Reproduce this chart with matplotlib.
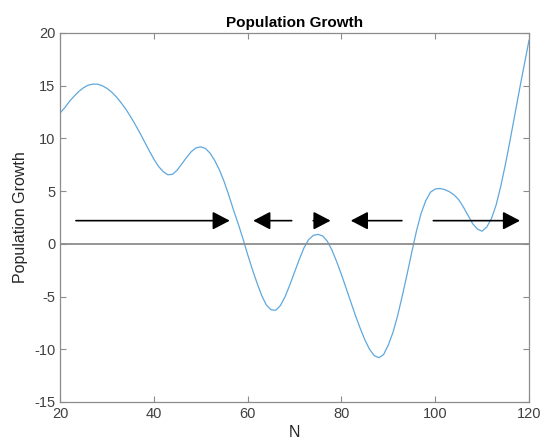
import matplotlib
matplotlib.use('Agg')
import matplotlib.pyplot as plt

plt.rcParams['font.family'] = ['Liberation Sans', 'DejaVu Sans']
plt.rcParams['axes.unicode_minus'] = False

# curve, one value per unit of N
N = list(range(20, 121))
growth = [12.4, 12.9, 13.5, 14.0, 14.45, 14.8, 15.05, 15.15, 15.15, 15.0,
          14.75, 14.4, 13.95, 13.4, 12.8, 12.1, 11.35, 10.55, 9.7, 8.85,
          8.05, 7.35, 6.85, 6.55, 6.6, 7.0, 7.6, 8.2, 8.75, 9.1,
          9.2, 9.05, 8.6, 7.9, 7.0, 5.9, 4.6, 3.2, 1.9, 0.5,
          -1.0, -2.4, -3.7, -4.9, -5.8, -6.25, -6.3, -5.85, -5.0, -3.9,
          -2.7, -1.5, -0.4, 0.4, 0.8, 0.9, 0.75, 0.25, -0.6, -1.7,
          -2.9, -4.2, -5.5, -6.8, -8.0, -9.1, -10.0, -10.6, -10.8, -10.5,
          -9.6, -8.4, -6.8, -4.9, -2.9, -0.8, 1.2, 2.9, 4.1, 4.9,
          5.2, 5.25, 5.15, 4.95, 4.65, 4.2, 3.5, 2.7, 1.9, 1.4,
          1.2, 1.6, 2.4, 3.7, 5.5, 7.6, 9.9, 12.3, 14.7, 17.0,
          19.3]

# direction arrows (tail, tip) at height arrow_y
arrow_tail = [23.4, 69.4, 74.0, 92.9, 99.6]
arrow_tip = [56.2, 61.2, 77.7, 82.0, 118.1]
arrow_y = 2.2

fig = plt.figure(figsize=(5.42, 4.44), dpi=100)
ax = fig.add_axes([0.1107, 0.0946, 0.976 - 0.1107, 0.9257 - 0.0946])

ax.plot(N, growth, color='#5fa8de', lw=0.9)
ax.axhline(0, color='#8c8c8c', lw=1.3)

for t0, t1 in zip(arrow_tail, arrow_tip):
    ax.annotate('', xy=(t1, arrow_y), xytext=(t0, arrow_y),
                arrowprops=dict(arrowstyle='-|>,head_length=1.05,head_width=0.55',
                                mutation_scale=10, color='black', lw=1.2,
                                shrinkA=0, shrinkB=0))

ax.set_xlim(20, 120)
ax.set_ylim(-15, 20)
ax.set_xticks([20, 40, 60, 80, 100, 120])
ax.set_yticks([-15, -10, -5, 0, 5, 10, 15, 20])

for s in ax.spines.values():
    s.set_color('#8c8c8c')
    s.set_linewidth(0.9)
ax.tick_params(direction='in', top=True, right=True, length=4, width=0.8,
               color='#8c8c8c', labelcolor='#404040', labelsize=10.5)

ax.set_title('Population Growth', fontsize=11, fontweight='bold', pad=4)
ax.set_xlabel('N', fontsize=11.5, color='#262626', labelpad=3)
ax.set_ylabel('Population Growth', fontsize=11.5, color='#262626', labelpad=4)

fig.savefig('out.png', dpi=100)
